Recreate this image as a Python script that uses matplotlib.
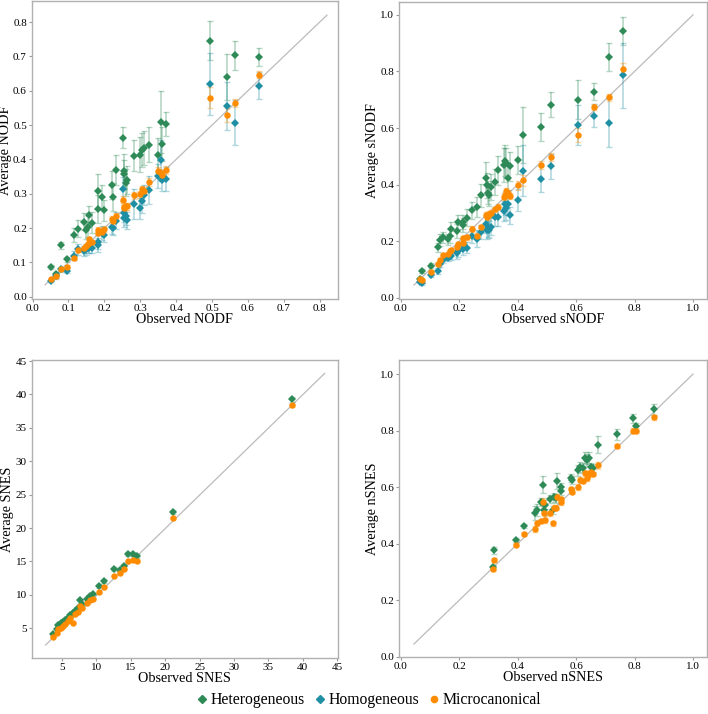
import matplotlib.pyplot as plt
import numpy as np
from matplotlib.lines import Line2D

plt.rcParams["font.family"] = "serif"
plt.rcParams["font.serif"] = ["Liberation Serif", "DejaVu Serif"]

C_HET = "#2e8b57"
C_HOM = "#1f8fa3"
C_MIC = "#ff8c00"

# ---- NODF ----
nodf_obs = [0.052, 0.064, 0.079, 0.095, 0.115, 0.126, 0.144, 0.148, 0.153, 0.157,
            0.166, 0.182, 0.183, 0.194, 0.199, 0.222, 0.225, 0.231, 0.252, 0.254,
            0.256, 0.259, 0.262, 0.283, 0.299, 0.304, 0.309, 0.325, 0.349, 0.359,
            0.360, 0.371, 0.495, 0.541, 0.563, 0.631]
nodf_het = [0.086, 0.065, 0.150, 0.109, 0.180, 0.198, 0.219, 0.194, 0.204, 0.238,
            0.216, 0.307, 0.256, 0.291, 0.252, 0.326, 0.291, 0.369, 0.463, 0.365,
            0.357, 0.332, 0.340, 0.410, 0.414, 0.427, 0.434, 0.443, 0.413, 0.510,
            0.444, 0.502, 0.746, 0.640, 0.703, 0.699]
nodf_het_err = [0.006, 0.008, 0.010, 0.008, 0.020, 0.025, 0.025, 0.025, 0.030, 0.025,
                0.030, 0.050, 0.040, 0.035, 0.030, 0.040, 0.040, 0.045, 0.030, 0.050,
                0.040, 0.040, 0.040, 0.045, 0.050, 0.050, 0.050, 0.050, 0.050, 0.090,
                0.050, 0.035, 0.057, 0.066, 0.042, 0.026]
nodf_hom = [0.047, 0.059, 0.080, 0.076, 0.120, 0.138, 0.134, 0.138, 0.141, 0.143,
            0.143, 0.159, 0.150, 0.185, 0.179, 0.204, 0.201, 0.222, 0.313, 0.228,
            0.243, 0.235, 0.223, 0.270, 0.257, 0.278, 0.296, 0.311, 0.351, 0.397,
            0.339, 0.344, 0.620, 0.556, 0.507, 0.615]
nodf_hom_err = [0.005, 0.006, 0.008, 0.008, 0.012, 0.015, 0.015, 0.015, 0.015, 0.015,
                0.015, 0.020, 0.020, 0.020, 0.020, 0.020, 0.020, 0.025, 0.035, 0.025,
                0.025, 0.025, 0.025, 0.045, 0.030, 0.035, 0.030, 0.040, 0.035, 0.060,
                0.030, 0.035, 0.090, 0.070, 0.065, 0.040]
nodf_mic = [0.051, 0.059, 0.081, 0.088, 0.112, 0.136, 0.141, 0.148, 0.153, 0.167,
            0.160, 0.194, 0.187, 0.190, 0.196, 0.226, 0.222, 0.235, 0.283, 0.257,
            0.260, 0.264, 0.264, 0.295, 0.299, 0.313, 0.309, 0.334, 0.365, 0.359,
            0.355, 0.369, 0.580, 0.530, 0.564, 0.646]
nodf_mic_err = [0.003, 0.003, 0.004, 0.004, 0.005, 0.006, 0.006, 0.006, 0.006, 0.007,
                0.006, 0.008, 0.008, 0.008, 0.008, 0.008, 0.008, 0.009, 0.010, 0.010,
                0.010, 0.010, 0.010, 0.010, 0.010, 0.010, 0.010, 0.012, 0.012, 0.012,
                0.012, 0.012, 0.030, 0.020, 0.012, 0.010]

# ---- sNODF ----
snodf_obs = [0.065, 0.072, 0.103, 0.129, 0.135, 0.143, 0.163, 0.168, 0.171, 0.194,
             0.195, 0.212, 0.213, 0.228, 0.244, 0.260, 0.274, 0.291, 0.296, 0.297,
             0.302, 0.310, 0.323, 0.331, 0.352, 0.355, 0.359, 0.367, 0.373, 0.400,
             0.417, 0.480, 0.513, 0.605, 0.661, 0.711, 0.759]
snodf_het = [0.066, 0.095, 0.114, 0.178, 0.204, 0.213, 0.206, 0.218, 0.244, 0.236,
             0.267, 0.267, 0.256, 0.283, 0.310, 0.322, 0.362, 0.425, 0.397, 0.371,
             0.364, 0.392, 0.409, 0.450, 0.468, 0.485, 0.478, 0.425, 0.464, 0.488,
             0.575, 0.604, 0.683, 0.700, 0.729, 0.852, 0.942]
snodf_het_err = [0.006, 0.008, 0.010, 0.015, 0.020, 0.020, 0.020, 0.025, 0.025, 0.025,
                 0.025, 0.025, 0.025, 0.030, 0.030, 0.035, 0.040, 0.055, 0.045, 0.040,
                 0.040, 0.045, 0.045, 0.050, 0.060, 0.055, 0.050, 0.045, 0.050, 0.050,
                 0.100, 0.050, 0.045, 0.068, 0.030, 0.050, 0.050]
snodf_hom = [0.057, 0.051, 0.080, 0.094, 0.120, 0.135, 0.141, 0.151, 0.148, 0.157,
             0.165, 0.171, 0.190, 0.177, 0.218, 0.208, 0.233, 0.260, 0.239, 0.245,
             0.241, 0.251, 0.284, 0.284, 0.307, 0.331, 0.316, 0.331, 0.292, 0.345,
             0.449, 0.419, 0.464, 0.610, 0.644, 0.618, 0.787]
snodf_hom_err = [0.005, 0.006, 0.008, 0.010, 0.012, 0.012, 0.012, 0.015, 0.015, 0.020,
                 0.020, 0.020, 0.020, 0.020, 0.025, 0.030, 0.025, 0.030, 0.030, 0.030,
                 0.030, 0.030, 0.030, 0.030, 0.035, 0.040, 0.040, 0.040, 0.030, 0.040,
                 0.090, 0.045, 0.045, 0.070, 0.040, 0.085, 0.115]
snodf_mic = [0.065, 0.062, 0.092, 0.119, 0.133, 0.151, 0.154, 0.166, 0.170, 0.178,
             0.190, 0.192, 0.210, 0.213, 0.243, 0.220, 0.249, 0.294, 0.286, 0.292,
             0.296, 0.300, 0.312, 0.322, 0.356, 0.363, 0.377, 0.370, 0.360, 0.397,
             0.415, 0.470, 0.497, 0.575, 0.674, 0.709, 0.809]
snodf_mic_err = [0.004, 0.004, 0.005, 0.006, 0.006, 0.006, 0.007, 0.007, 0.007, 0.008,
                 0.008, 0.008, 0.008, 0.008, 0.009, 0.009, 0.009, 0.010, 0.010, 0.010,
                 0.010, 0.010, 0.010, 0.010, 0.012, 0.012, 0.012, 0.012, 0.012, 0.015,
                 0.020, 0.015, 0.015, 0.025, 0.012, 0.012, 0.020]

# ---- SNES ----
snes_obs = [3.74, 4.32, 4.47, 4.80, 5.10, 5.44, 5.82, 6.16, 6.55, 6.89, 7.28, 7.60,
            7.86, 8.68, 9.07, 9.45, 10.33, 11.10, 12.60, 13.43, 14.06, 14.54, 15.36,
            15.85, 21.17, 38.40]
snes_het = [4.15, 4.90, 5.50, 5.75, 6.00, 6.25, 6.60, 7.00, 7.34, 7.64, 7.99, 9.24,
            8.64, 9.34, 9.89, 10.14, 11.33, 12.08, 13.90, 13.73, 14.38, 16.07, 16.12,
            15.87, 22.40, 39.26]
snes_het_err = [0.15, 0.15, 0.15, 0.15, 0.15, 0.15, 0.15, 0.15, 0.15, 0.15, 0.15, 0.20,
                0.20, 0.20, 0.20, 0.20, 0.25, 0.25, 0.30, 0.25, 0.25, 0.30, 0.30,
                0.30, 0.35, 0.40]
snes_mic = [3.75, 4.30, 4.85, 5.00, 5.35, 5.65, 6.15, 6.50, 5.85, 7.14, 7.49, 8.34,
            7.99, 8.74, 9.24, 9.44, 10.39, 11.23, 12.88, 13.33, 13.83, 15.02, 15.22,
            15.07, 21.56, 38.37]
snes_mic_err = [0.08] * 20 + [0.10, 0.10, 0.10, 0.10, 0.15, 0.20]

# ---- nSNES ----
nsnes_obs = [0.314, 0.318, 0.393, 0.422, 0.460, 0.467, 0.480, 0.488, 0.490, 0.495,
             0.511, 0.520, 0.525, 0.530, 0.536, 0.547, 0.549, 0.584, 0.587, 0.605,
             0.612, 0.625, 0.631, 0.638, 0.645, 0.650, 0.657, 0.675, 0.739, 0.796,
             0.804, 0.867]
nsnes_het = [0.318, 0.377, 0.413, 0.463, 0.510, 0.519, 0.548, 0.608, 0.520, 0.538,
             0.558, 0.519, 0.564, 0.560, 0.621, 0.601, 0.587, 0.633, 0.625, 0.659,
             0.670, 0.669, 0.704, 0.696, 0.703, 0.672, 0.667, 0.750, 0.787, 0.843,
             0.816, 0.875]
nsnes_het_err = [0.008, 0.012, 0.008, 0.008, 0.025, 0.020, 0.015, 0.030, 0.015, 0.015,
                 0.015, 0.015, 0.015, 0.015, 0.028, 0.015, 0.015, 0.015, 0.015, 0.018,
                 0.020, 0.015, 0.022, 0.022, 0.022, 0.015, 0.015, 0.030, 0.020, 0.015,
                 0.012, 0.018]
nsnes_mic = [0.311, 0.343, 0.397, 0.435, 0.453, 0.472, 0.481, 0.548, 0.507, 0.483,
             0.507, 0.472, 0.528, 0.528, 0.566, 0.557, 0.546, 0.592, 0.584, 0.601,
             0.627, 0.621, 0.649, 0.631, 0.646, 0.654, 0.646, 0.678, 0.746, 0.800,
             0.800, 0.847]
nsnes_mic_err = [0.006, 0.006, 0.006, 0.006, 0.010, 0.010, 0.008, 0.012, 0.008, 0.008,
                 0.008, 0.010, 0.008, 0.008, 0.010, 0.008, 0.008, 0.010, 0.008, 0.010,
                 0.010, 0.008, 0.010, 0.010, 0.010, 0.008, 0.008, 0.012, 0.008, 0.008,
                 0.008, 0.010]


def draw_series(ax, x, y, err, color, marker, ms):
    ax.errorbar(x, y, yerr=err, fmt="none", ecolor=color, alpha=0.35,
                elinewidth=1.2, capsize=2.5, capthick=1.0, zorder=2)
    ax.plot(x, y, linestyle="none", marker=marker, color=color,
            markersize=ms, markeredgewidth=0, zorder=3)


def style_axes(ax, xlabel, ylabel, xlim, ylim, ticks):
    ax.set_xlim(*xlim)
    ax.set_ylim(*ylim)
    ax.set_xticks(ticks[0])
    ax.set_yticks(ticks[1])
    ax.set_xlabel(xlabel, fontsize=10.2, labelpad=0)
    ax.set_ylabel(ylabel, fontsize=10.2, labelpad=1)
    ax.tick_params(labelsize=8, length=2.5, width=0.8, color="#999999", pad=1)
    for s in ax.spines.values():
        s.set_color("#b0b0b0")
        s.set_linewidth(1.0)


fig = plt.figure(figsize=(7.08, 7.14), dpi=100)
ax1 = fig.add_axes([0.045, 0.581, 0.432, 0.418])
ax2 = fig.add_axes([0.5636, 0.581, 0.435, 0.416])
ax3 = fig.add_axes([0.045, 0.0784, 0.432, 0.4174])
ax4 = fig.add_axes([0.5636, 0.0798, 0.435, 0.416])

# NODF
ax1.plot([0.035, 0.82], [0.035, 0.82], color="#bbbbbb", lw=0.9, zorder=1)
draw_series(ax1, nodf_obs, nodf_het, nodf_het_err, C_HET, "D", 4.2)
draw_series(ax1, nodf_obs, nodf_hom, nodf_hom_err, C_HOM, "D", 4.2)
draw_series(ax1, nodf_obs, nodf_mic, nodf_mic_err, C_MIC, "o", 4.6)
style_axes(ax1, "Observed NODF", "Average NODF", (-0.002, 0.85), (-0.007, 0.862),
           (np.arange(0, 0.81, 0.1), np.arange(0, 0.81, 0.1)))

# sNODF
ax2.plot([0.045, 1.0], [0.045, 1.0], color="#bbbbbb", lw=0.9, zorder=1)
draw_series(ax2, snodf_obs, snodf_het, snodf_het_err, C_HET, "D", 4.2)
draw_series(ax2, snodf_obs, snodf_hom, snodf_hom_err, C_HOM, "D", 4.2)
draw_series(ax2, snodf_obs, snodf_mic, snodf_mic_err, C_MIC, "o", 4.6)
style_axes(ax2, "Observed sNODF", "Average sNODF", (-0.006, 1.048), (-0.005, 1.045),
           (np.arange(0, 1.01, 0.2), np.arange(0, 1.01, 0.2)))

# SNES
ax3.plot([2.6, 43.2], [2.5, 43.15], color="#bbbbbb", lw=0.9, zorder=1)
draw_series(ax3, snes_obs, snes_het, snes_het_err, C_HET, "D", 4.2)
draw_series(ax3, snes_obs, snes_mic, snes_mic_err, C_MIC, "o", 4.6)
style_axes(ax3, "Observed SNES", "Average SNES", (0.6, 45.1), (0.55, 45.15),
           (np.arange(5, 46, 5), np.arange(5, 46, 5)))

# nSNES
ax4.plot([0.045, 1.0], [0.045, 1.0], color="#bbbbbb", lw=0.9, zorder=1)
draw_series(ax4, nsnes_obs, nsnes_het, nsnes_het_err, C_HET, "D", 4.2)
draw_series(ax4, nsnes_obs, nsnes_mic, nsnes_mic_err, C_MIC, "o", 4.6)
style_axes(ax4, "Observed nSNES", "Average nSNES", (-0.006, 1.048), (-0.001, 1.05),
           (np.arange(0, 1.01, 0.2), np.arange(0, 1.01, 0.2)))

handles = [
    Line2D([], [], linestyle="none", marker="D", color=C_HET, markersize=4.5, label="Heterogeneous"),
    Line2D([], [], linestyle="none", marker="D", color=C_HOM, markersize=4.5, label="Homogeneous"),
    Line2D([], [], linestyle="none", marker="o", color=C_MIC, markersize=4.5, label="Microcanonical"),
]
fig.legend(handles=handles, loc="center", bbox_to_anchor=(0.52, 0.019), ncol=3,
           frameon=False, fontsize=11.3, handletextpad=0.1, columnspacing=0.5,
           handlelength=0.9)

fig.savefig("out.png", dpi=100)
